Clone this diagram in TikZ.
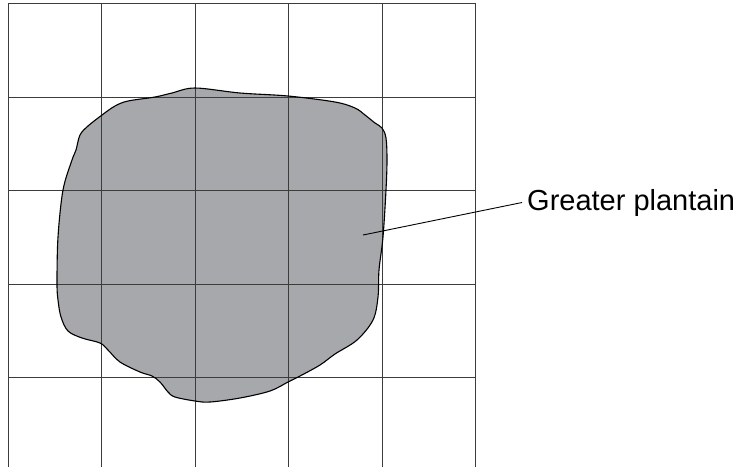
\documentclass[tikz,border=0pt]{standalone}
\usepackage{fontspec}
\setmainfont{Liberation Sans}
\definecolor{leaf}{HTML}{A7A8AB}
\definecolor{gridc}{HTML}{3C3C3C}
\tikzset{
  gridline/.style={draw=gridc, line width=0.9pt},
  outline/.style={draw=black, line width=1.1pt, line join=round},
  leader/.style={draw=black, line width=0.9pt},
  labeltext/.style={font=\fontsize{29}{33}\selectfont, inner sep=0pt, anchor=base west}
}
\begin{document}
\begin{tikzpicture}[x=1pt,y=-1pt]
\useasboundingbox (0,0) rectangle (738,467);
\def\leafpath{plot[smooth cycle, tension=0.55] coordinates {
 (80,135) (88,126) (102,115) (115,106) (128,101) (155,97) (172,93) (195,88)
 (240,93) (288,96) (335,102) (355,108) (365,115) (375,123) (382,128) (386,138)
 (387,160) (386,190) (383,237) (379,270) (378,297) (373,320) (357,340) (335,354)
 (320,365) (300,376) (288,382) (270,391) (240,398) (210,402) (195,401) (175,397)
 (168,392) (160,382) (152,376) (140,372) (120,362) (108,350) (100,343) (82,338)
 (68,331) (61,317) (58,300) (57,283) (58,237) (63,190) (72,160) (76,150)}}
\fill[leaf] \leafpath;
% grid
\foreach \x in {8,101.5,195,288.5,382,475.5} \draw[gridline] (\x,3) -- (\x,467);
\foreach \y in {3,97,190,284,377} \draw[gridline] (8,\y) -- (475.5,\y);
\draw[outline] \leafpath;
% label
\node[labeltext] (lab) at (527,210) {Greater plantain};
\coordinate (p) at (363,235);
\draw[leader] (p) -- ([xshift=-5pt]lab.west);
\end{tikzpicture}
\end{document}
